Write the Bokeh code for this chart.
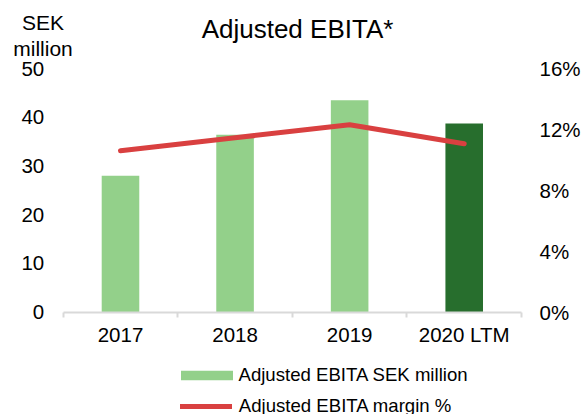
from bokeh.plotting import figure
from bokeh.models import (Range1d, LinearAxis, FixedTicker, Legend, LegendItem,
                          Label, PrintfTickFormatter, ColumnDataSource)
from bokeh.embed import file_html
from bokeh.resources import INLINE

categories = ["2017", "2018", "2019", "2020 LTM"]
ebita_sek_m = [28.0, 36.4, 43.5, 38.7]
margin_pct = [10.6, 11.45, 12.3, 11.05]
left_ticks = [0, 10, 20, 30, 40, 50]
right_ticks = [0, 4, 8, 12, 16]

LIGHT = "#93D08A"
DARK = "#276E2D"
RED = "#D94040"
AXIS_GRAY = "#D9D9D9"
FONT = "Liberation Sans"

# layout (pixel) targets of the plot area
W, H = 584, 414
FR_L, FR_R = 62.7, 521.0      # x of left/right edge of the category band
Y0_PX, YTOP_PX = 311.5, 68.0  # y pixel of value 0 and of the top tick

n = len(categories)
xs = [i + 1 for i in range(n)]
px_cat = (FR_R - FR_L) / n
x_start = 0.5 - FR_L / px_cat
x_end = n + 0.5 + (W - FR_R) / px_cat

L_MAX = left_ticks[-1]
px_l = (Y0_PX - YTOP_PX) / L_MAX
y_start = -(H - Y0_PX) / px_l
y_end = L_MAX + YTOP_PX / px_l

R_MAX = right_ticks[-1]
px_r = (Y0_PX - YTOP_PX) / R_MAX
r_start = -(H - Y0_PX) / px_r
r_end = R_MAX + YTOP_PX / px_r

bar_colors = [LIGHT] * (n - 1) + [DARK]
src = ColumnDataSource(dict(x=xs, top=ebita_sek_m, m=margin_pct, color=bar_colors))

p = figure(width=W, height=H, x_range=Range1d(x_start, x_end),
           y_range=Range1d(y_start, y_end), output_backend="svg",
           toolbar_location=None, x_axis_location=None, y_axis_location=None,
           min_border=0)
p.extra_y_ranges = {"pct": Range1d(r_start, r_end)}
p.outline_line_color = None
p.xgrid.visible = False
p.ygrid.visible = False
p.background_fill_color = "white"
p.border_fill_color = "white"


def style_axis(ax, standoff):
    ax.major_tick_line_color = None
    ax.major_tick_out = 0
    ax.major_tick_in = 0
    ax.major_label_standoff = standoff
    ax.major_label_text_font = FONT
    ax.major_label_text_font_size = "20.5px"
    ax.major_label_text_color = "black"


# left axis
lax = LinearAxis(fixed_location=0.5, ticker=FixedTicker(ticks=left_ticks))
style_axis(lax, 19)
lax.axis_line_color = None
lax.minor_tick_line_color = None
p.add_layout(lax, "left")

# right axis
rax = LinearAxis(fixed_location=n + 0.5, y_range_name="pct",
                 ticker=FixedTicker(ticks=right_ticks),
                 formatter=PrintfTickFormatter(format="%d%%"))
style_axis(rax, 18)
rax.axis_line_color = None
rax.minor_tick_line_color = None
p.add_layout(rax, "right")

# bottom axis
bax = LinearAxis(fixed_location=0, bounds=(0.5, n + 0.5),
                 ticker=FixedTicker(ticks=xs,
                                    minor_ticks=[x - 0.5 for x in xs] + [xs[-1] + 0.5]))
style_axis(bax, 6)
bax.major_label_overrides = {x: c for x, c in zip(xs, categories)}
bax.axis_line_color = AXIS_GRAY
bax.axis_line_width = 2
bax.minor_tick_line_color = AXIS_GRAY
bax.minor_tick_line_width = 2
bax.minor_tick_out = 5
bax.minor_tick_in = 0
p.add_layout(bax, "below")

bars = p.vbar(x="x", top="top", width=0.328, fill_color="color", line_color=None,
              source=src)
line = p.line(x="x", y="m", y_range_name="pct", source=src, line_color=RED,
              line_width=5, line_cap="round", line_join="round")

# title and unit label (screen units, measured from bottom-left)
p.add_layout(Label(x=297, y=H - 28, x_units="screen", y_units="screen",
                   text="Adjusted EBITA*", text_align="center",
                   text_baseline="alphabetic", text_font=FONT,
                   text_font_size="26px", text_color="black"))
p.add_layout(Label(x=42.5, y=H - 22, x_units="screen", y_units="screen",
                   text="SEK", text_align="center", text_baseline="alphabetic",
                   text_font=FONT, text_font_size="21px", text_color="black"))
p.add_layout(Label(x=42.5, y=H - 47.5, x_units="screen", y_units="screen",
                   text="million", text_align="center", text_baseline="alphabetic",
                   text_font=FONT, text_font_size="21px", text_color="black"))


def mk_legend(item, loc, gw, gh, standoff):
    lg = Legend(items=[item], location=loc, orientation="vertical",
                glyph_width=gw, glyph_height=gh, label_standoff=standoff,
                label_height=22, label_text_font=FONT,
                label_text_font_size="18.6px", label_text_color="black",
                padding=0, margin=0, border_line_color=None,
                background_fill_alpha=0)
    p.add_layout(lg)


mk_legend(LegendItem(label="Adjusted EBITA SEK million", renderers=[bars], index=0),
          (173.5, 28), 65, 12, 0)
mk_legend(LegendItem(label="Adjusted EBITA margin %", renderers=[line]),
          (179.8, -2.7), 52, 12, 7)

open("out.html", "w").write(file_html(p, INLINE))
